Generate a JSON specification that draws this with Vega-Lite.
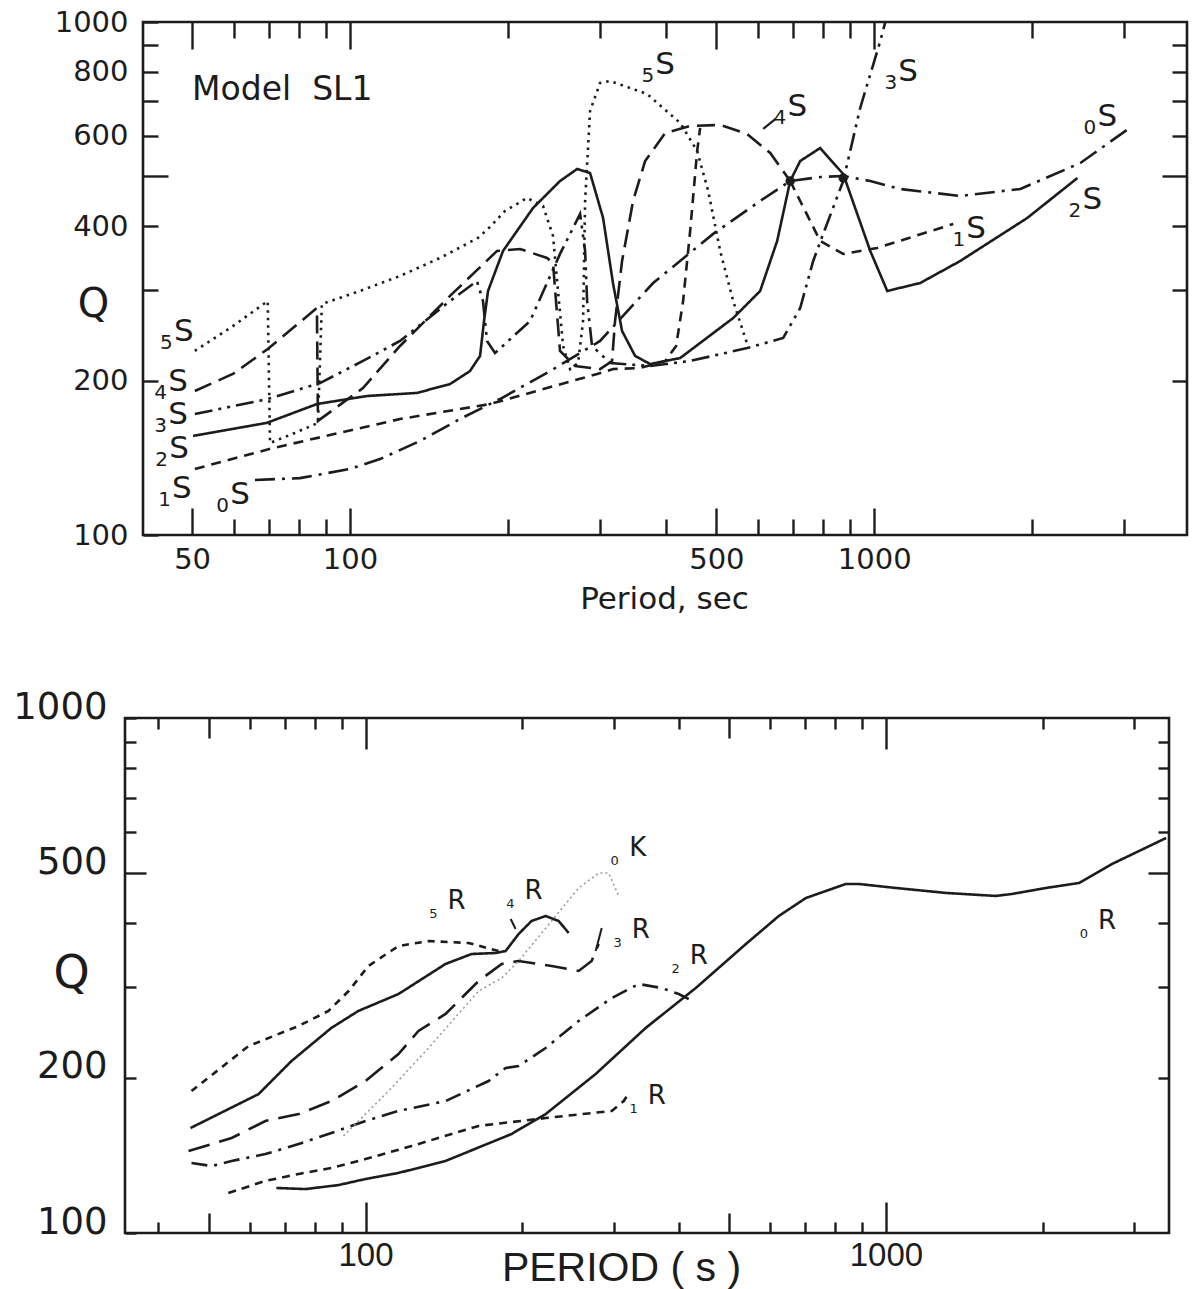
{
  "$schema": "https://vega.github.io/schema/vega-lite/v6.json",
  "background": "white",
  "padding": {"left": 10, "top": 6, "right": 0, "bottom": 0},
  "config": {
    "view": {"stroke": "#1c1c1c", "strokeWidth": 2.6},
    "axis": {"domain": false, "grid": false, "tickColor": "#1c1c1c", "tickWidth": 2.4, "labelColor": "#1c1c1c", "titleColor": "#1c1c1c", "labelOverlap": false, "labelFlush": false, "labelBound": false, "titleFontWeight": "normal", "labelFont": "DejaVu Sans", "titleFont": "DejaVu Sans"},
    "text": {"color": "#1c1c1c", "font": "DejaVu Sans"}
  },
  "datasets": {
    "topCurves": [
      {"mode":"5S","seg":"5S","i":0,"period":50.6,"Q":228.5},{"mode":"5S","seg":"5S","i":1,"period":59.5,"Q":254.4},{"mode":"5S","seg":"5S","i":2,"period":69.7,"Q":285.8},{"mode":"5S","seg":"5S","i":3,"period":70.4,"Q":151.1},{"mode":"5S","seg":"5S","i":4,"period":78.5,"Q":158.1},{"mode":"5S","seg":"5S","i":5,"period":86.9,"Q":165.4},{"mode":"5S","seg":"5S","i":6,"period":88.4,"Q":282.0},{"mode":"5S","seg":"5S","i":7,"period":104.5,"Q":299.0},{"mode":"5S","seg":"5S","i":8,"period":124.6,"Q":319.8},{"mode":"5S","seg":"5S","i":9,"period":148.5,"Q":346.7},{"mode":"5S","seg":"5S","i":10,"period":175.5,"Q":379.4},{"mode":"5S","seg":"5S","i":11,"period":185.0,"Q":398.6},{"mode":"5S","seg":"5S","i":12,"period":197.6,"Q":428.2},{"mode":"5S","seg":"5S","i":13,"period":217.7,"Q":453.9},{"mode":"5S","seg":"5S","i":14,"period":233.5,"Q":437.9},{"mode":"5S","seg":"5S","i":15,"period":244.0,"Q":382.8},{"mode":"5S","seg":"5S","i":16,"period":249.4,"Q":299.0},{"mode":"5S","seg":"5S","i":17,"period":255.0,"Q":233.6},{"mode":"5S","seg":"5S","i":18,"period":263.0,"Q":210.6},{"mode":"5S","seg":"5S","i":19,"period":272.4,"Q":216.4},{"mode":"5S","seg":"5S","i":20,"period":278.4,"Q":261.3},{"mode":"5S","seg":"5S","i":21,"period":280.9,"Q":447.9},{"mode":"5S","seg":"5S","i":22,"period":287.1,"Q":670.7},{"mode":"5S","seg":"5S","i":23,"period":300.0,"Q":760.5},{"mode":"5S","seg":"5S","i":24,"period":313.5,"Q":767.4},{"mode":"5S","seg":"5S","i":25,"period":368.8,"Q":723.9},{"mode":"5S","seg":"5S","i":26,"period":426.5,"Q":635.6},{"mode":"5S","seg":"5S","i":27,"period":459.5,"Q":560.5},{"mode":"5S","seg":"5S","i":28,"period":482.3,"Q":468.4},{"mode":"5S","seg":"5S","i":29,"period":508.4,"Q":357.9},{"mode":"5S","seg":"5S","i":30,"period":538.3,"Q":285.8},{"mode":"5S","seg":"5S","i":31,"period":572.4,"Q":235.7},
      {"mode":"4S","seg":"4S","i":0,"period":50.6,"Q":190.9},{"mode":"4S","seg":"4S","i":1,"period":59.8,"Q":206.0},{"mode":"4S","seg":"4S","i":2,"period":69.7,"Q":230.5},{"mode":"4S","seg":"4S","i":3,"period":86.5,"Q":277.0},{"mode":"4S","seg":"4S","i":4,"period":86.9,"Q":166.9},{"mode":"4S","seg":"4S","i":5,"period":105.9,"Q":193.4},{"mode":"4S","seg":"4S","i":6,"period":124.6,"Q":233.6},{"mode":"4S","seg":"4S","i":7,"period":155.2,"Q":292.4},{"mode":"4S","seg":"4S","i":8,"period":190.8,"Q":357.9},{"mode":"4S","seg":"4S","i":9,"period":211.1,"Q":361.0},{"mode":"4S","seg":"4S","i":10,"period":237.7,"Q":346.7},{"mode":"4S","seg":"4S","i":11,"period":244.0,"Q":339.0},{"mode":"4S","seg":"4S","i":12,"period":247.2,"Q":285.8},{"mode":"4S","seg":"4S","i":13,"period":251.6,"Q":228.5},{"mode":"4S","seg":"4S","i":14,"period":268.9,"Q":213.5},{"mode":"4S","seg":"4S","i":15,"period":300.0,"Q":210.6},{"mode":"4S","seg":"4S","i":16,"period":316.2,"Q":218.4},{"mode":"4S","seg":"4S","i":17,"period":320.4,"Q":261.3},{"mode":"4S","seg":"4S","i":18,"period":330.4,"Q":342.1},{"mode":"4S","seg":"4S","i":19,"period":346.8,"Q":447.9},{"mode":"4S","seg":"4S","i":20,"period":365.6,"Q":535.8},{"mode":"4S","seg":"4S","i":21,"period":399.3,"Q":607.6},{"mode":"4S","seg":"4S","i":22,"period":445.6,"Q":627.1},{"mode":"4S","seg":"4S","i":23,"period":508.4,"Q":630.0},{"mode":"4S","seg":"4S","i":24,"period":572.4,"Q":604.9},{"mode":"4S","seg":"4S","i":25,"period":633.4,"Q":555.4},{"mode":"4S","seg":"4S","i":26,"period":691.4,"Q":489.8},
      {"mode":"3S","seg":"3S","i":0,"period":50.6,"Q":172.1},{"mode":"3S","seg":"3S","i":1,"period":69.7,"Q":184.1},{"mode":"3S","seg":"3S","i":2,"period":87.7,"Q":197.8},{"mode":"3S","seg":"3S","i":3,"period":105.9,"Q":218.4},{"mode":"3S","seg":"3S","i":4,"period":124.6,"Q":238.9},{"mode":"3S","seg":"3S","i":5,"period":155.2,"Q":285.8},{"mode":"3S","seg":"3S","i":6,"period":174.7,"Q":312.7},{"mode":"3S","seg":"3S","i":7,"period":179.4,"Q":285.8},{"mode":"3S","seg":"3S","i":8,"period":182.6,"Q":238.9},{"mode":"3S","seg":"3S","i":9,"period":189.1,"Q":226.3},{"mode":"3S","seg":"3S","i":10,"period":220.6,"Q":261.3},{"mode":"3S","seg":"3S","i":11,"period":251.6,"Q":353.1},{"mode":"3S","seg":"3S","i":12,"period":274.8,"Q":422.5},{"mode":"3S","seg":"3S","i":13,"period":280.9,"Q":357.9},{"mode":"3S","seg":"3S","i":14,"period":283.4,"Q":285.8},{"mode":"3S","seg":"3S","i":15,"period":289.6,"Q":233.6},{"mode":"3S","seg":"3S","i":16,"period":313.5,"Q":216.4},{"mode":"3S","seg":"3S","i":17,"period":373.7,"Q":213.5},{"mode":"3S","seg":"3S","i":18,"period":445.6,"Q":218.4},{"mode":"3S","seg":"3S","i":19,"period":572.4,"Q":231.4},{"mode":"3S","seg":"3S","i":20,"period":670.5,"Q":242.1},{"mode":"3S","seg":"3S","i":21,"period":722.5,"Q":277.0},{"mode":"3S","seg":"3S","i":22,"period":764.9,"Q":342.1},{"mode":"3S","seg":"3S","i":23,"period":799.2,"Q":386.3},{"mode":"3S","seg":"3S","i":24,"period":872.7,"Q":489.8},{"mode":"3S","seg":"3S","i":25,"period":940.3,"Q":679.8},{"mode":"3S","seg":"3S","i":26,"period":1027,"Q":918.3},{"mode":"3S","seg":"3S","i":27,"period":1050,"Q":1000},
      {"mode":"2S","seg":"2S","i":0,"period":50.2,"Q":156.0},{"mode":"2S","seg":"2S","i":1,"period":69.4,"Q":165.4},{"mode":"2S","seg":"2S","i":2,"period":86.5,"Q":180.0},{"mode":"2S","seg":"2S","i":3,"period":107.7,"Q":186.6},{"mode":"2S","seg":"2S","i":4,"period":134.2,"Q":189.2},{"mode":"2S","seg":"2S","i":5,"period":155.2,"Q":196.9},{"mode":"2S","seg":"2S","i":6,"period":169.4,"Q":208.7},{"mode":"2S","seg":"2S","i":7,"period":177.1,"Q":223.4},{"mode":"2S","seg":"2S","i":8,"period":180.2,"Q":261.3},{"mode":"2S","seg":"2S","i":9,"period":183.4,"Q":299.0},{"mode":"2S","seg":"2S","i":10,"period":195.9,"Q":357.9},{"mode":"2S","seg":"2S","i":11,"period":223.5,"Q":434.0},{"mode":"2S","seg":"2S","i":12,"period":251.6,"Q":489.8},{"mode":"2S","seg":"2S","i":13,"period":271.3,"Q":517.0},{"mode":"2S","seg":"2S","i":14,"period":287.1,"Q":507.7},{"mode":"2S","seg":"2S","i":15,"period":304.0,"Q":415.0},{"mode":"2S","seg":"2S","i":16,"period":317.7,"Q":308.5},{"mode":"2S","seg":"2S","i":17,"period":330.4,"Q":249.9},{"mode":"2S","seg":"2S","i":18,"period":349.9,"Q":223.4},{"mode":"2S","seg":"2S","i":19,"period":373.7,"Q":215.4},{"mode":"2S","seg":"2S","i":20,"period":426.5,"Q":221.3},{"mode":"2S","seg":"2S","i":21,"period":538.3,"Q":264.8},{"mode":"2S","seg":"2S","i":22,"period":606.0,"Q":299.0},{"mode":"2S","seg":"2S","i":23,"period":653.0,"Q":374.3},{"mode":"2S","seg":"2S","i":24,"period":691.4,"Q":489.8},{"mode":"2S","seg":"2S","i":25,"period":722.5,"Q":535.8},{"mode":"2S","seg":"2S","i":26,"period":788.7,"Q":568.0},{"mode":"2S","seg":"2S","i":27,"period":872.7,"Q":505.5},{"mode":"2S","seg":"2S","i":28,"period":982.7,"Q":357.9},{"mode":"2S","seg":"2S","i":29,"period":1059,"Q":299.0},{"mode":"2S","seg":"2S","i":30,"period":1224,"Q":309.9},{"mode":"2S","seg":"2S","i":31,"period":1459,"Q":342.1},{"mode":"2S","seg":"2S","i":32,"period":1959,"Q":415.0},{"mode":"2S","seg":"2S","i":33,"period":2441,"Q":496.5},
      {"mode":"1S","seg":"1Sa","i":0,"period":50.6,"Q":134.5},{"mode":"1S","seg":"1Sa","i":1,"period":71.3,"Q":147.7},{"mode":"1S","seg":"1Sa","i":2,"period":124.6,"Q":168.3},{"mode":"1S","seg":"1Sa","i":3,"period":185.0,"Q":180.0},{"mode":"1S","seg":"1Sa","i":4,"period":296.1,"Q":206.0},{"mode":"1S","seg":"1Sa","i":5,"period":317.7,"Q":210.6},{"mode":"1S","seg":"1Sa","i":6,"period":357.6,"Q":211.6},{"mode":"1S","seg":"1Sa","i":7,"period":399.3,"Q":218.4},{"mode":"1S","seg":"1Sa","i":8,"period":419.0,"Q":233.6},{"mode":"1S","seg":"1Sa","i":9,"period":432.0,"Q":285.8},{"mode":"1S","seg":"1Sa","i":10,"period":445.6,"Q":391.5},{"mode":"1S","seg":"1Sa","i":11,"period":459.5,"Q":560.5},{"mode":"1S","seg":"1Sa","i":12,"period":465.6,"Q":621.6},
      {"mode":"1S","seg":"1Sb","i":0,"period":691.4,"Q":489.8},{"mode":"1S","seg":"1Sb","i":1,"period":788.7,"Q":374.3},{"mode":"1S","seg":"1Sb","i":2,"period":872.7,"Q":353.1},{"mode":"1S","seg":"1Sb","i":3,"period":1013,"Q":362.7},{"mode":"1S","seg":"1Sb","i":4,"period":1415,"Q":404.0},
      {"mode":"0S","seg":"0S","i":0,"period":65.9,"Q":128.0},{"mode":"0S","seg":"0S","i":1,"period":80.3,"Q":129.1},{"mode":"0S","seg":"0S","i":2,"period":100,"Q":134.5},{"mode":"0S","seg":"0S","i":3,"period":114.1,"Q":140.6},{"mode":"0S","seg":"0S","i":4,"period":136.0,"Q":152.5},{"mode":"0S","seg":"0S","i":5,"period":162.1,"Q":168.3},{"mode":"0S","seg":"0S","i":6,"period":193.3,"Q":184.1},{"mode":"0S","seg":"0S","i":7,"period":240.8,"Q":208.7},{"mode":"0S","seg":"0S","i":8,"period":300.0,"Q":238.9},{"mode":"0S","seg":"0S","i":9,"period":378.7,"Q":309.9},{"mode":"0S","seg":"0S","i":10,"period":493.0,"Q":386.3},{"mode":"0S","seg":"0S","i":11,"period":606.0,"Q":447.9},{"mode":"0S","seg":"0S","i":12,"period":691.4,"Q":489.8},{"mode":"0S","seg":"0S","i":13,"period":788.7,"Q":498.7},{"mode":"0S","seg":"0S","i":14,"period":872.7,"Q":501.0},{"mode":"0S","seg":"0S","i":15,"period":982.7,"Q":489.8},{"mode":"0S","seg":"0S","i":16,"period":1121,"Q":472.6},{"mode":"0S","seg":"0S","i":17,"period":1459,"Q":458.0},{"mode":"0S","seg":"0S","i":18,"period":1900,"Q":472.6},{"mode":"0S","seg":"0S","i":19,"period":2474,"Q":531.1},{"mode":"0S","seg":"0S","i":20,"period":3108,"Q":627.1}
    ],
    "topLabels": [
      {"n":"5","period":48.2,"Q":238.9},{"n":"4","period":47.0,"Q":190.9},{"n":"3","period":47.0,"Q":164.6},{"n":"2","period":47.2,"Q":141.3},{"n":"1","period":47.8,"Q":118.1},{"n":"0","period":61.7,"Q":114.9},
      {"n":"5","period":399.3,"Q":791.7},{"n":"4","period":713.1,"Q":655.8},{"n":"3","period":1161,"Q":767.4},{"n":"0","period":2784,"Q":627.1},{"n":"1","period":1565,"Q":379.4},{"n":"2","period":2606,"Q":432.0}
    ],
    "topNodes": [
      {"period":691.4,"Q":489.8},{"period":872.7,"Q":496.5}
    ],
    "topLeaders": [
      {"period":614.1,"Q":618.7,"period2":647.6,"Q2":646.9}
    ],
    "bottomCurves": [
      {"mode":"5R","i":0,"period":46.3,"Q":188.6},{"mode":"5R","i":1,"period":59.6,"Q":230.7},{"mode":"5R","i":2,"period":74.4,"Q":252.4},{"mode":"5R","i":3,"period":84.9,"Q":269.9},{"mode":"5R","i":4,"period":92.8,"Q":295.0},{"mode":"5R","i":5,"period":101.3,"Q":330.0},{"mode":"5R","i":6,"period":115.7,"Q":360.8},{"mode":"5R","i":7,"period":132.2,"Q":368.9},{"mode":"5R","i":8,"period":157.8,"Q":365.6},{"mode":"5R","i":9,"period":180.3,"Q":352.8},
      {"mode":"4R","i":0,"period":46.1,"Q":159.9},{"mode":"4R","i":1,"period":62.3,"Q":186.1},{"mode":"4R","i":2,"period":72.1,"Q":215.8},{"mode":"4R","i":3,"period":86.0,"Q":250.2},{"mode":"4R","i":4,"period":96.9,"Q":269.9},{"mode":"4R","i":5,"period":115.7,"Q":291.1},{"mode":"4R","i":6,"period":142.5,"Q":333.0},{"mode":"4R","i":7,"period":159.9,"Q":348.1},{"mode":"4R","i":8,"period":177.8,"Q":349.7},{"mode":"4R","i":9,"period":185.9,"Q":352.8},{"mode":"4R","i":10,"period":196.9,"Q":380.7},{"mode":"4R","i":11,"period":208.5,"Q":403.5},{"mode":"4R","i":12,"period":221.9,"Q":412.6},{"mode":"4R","i":13,"period":235.1,"Q":403.5},{"mode":"4R","i":14,"period":245.7,"Q":382.4},
      {"mode":"3R","i":0,"period":45.7,"Q":144.3},{"mode":"3R","i":1,"period":55.3,"Q":152.9},{"mode":"3R","i":2,"period":64.2,"Q":165.0},{"mode":"3R","i":3,"period":74.4,"Q":170.2},{"mode":"3R","i":4,"period":86.0,"Q":180.4},{"mode":"3R","i":5,"period":100,"Q":197.3},{"mode":"3R","i":6,"period":115.7,"Q":222.6},{"mode":"3R","i":7,"period":126.4,"Q":246.8},{"mode":"3R","i":8,"period":142.5,"Q":266.3},{"mode":"3R","i":9,"period":164.9,"Q":308.5},{"mode":"3R","i":10,"period":182.7,"Q":333.0},{"mode":"3R","i":11,"period":196.9,"Q":337.4},{"mode":"3R","i":12,"period":227.9,"Q":330.0},{"mode":"3R","i":13,"period":256.8,"Q":322.7},{"mode":"3R","i":14,"period":272.0,"Q":337.4},{"mode":"3R","i":15,"period":280.6,"Q":364.0},
      {"mode":"0K","i":0,"period":90.7,"Q":154.3},{"mode":"0K","i":1,"period":110.7,"Q":188.6},{"mode":"0K","i":2,"period":132.2,"Q":228.7},{"mode":"0K","i":3,"period":164.9,"Q":295.0},{"mode":"0K","i":4,"period":182.7,"Q":312.7},{"mode":"0K","i":5,"period":196.9,"Q":337.4},{"mode":"0K","i":6,"period":227.9,"Q":403.5},{"mode":"0K","i":7,"period":256.8,"Q":467.7},{"mode":"0K","i":8,"period":280.6,"Q":500.0},{"mode":"0K","i":9,"period":293.3,"Q":500.0},{"mode":"0K","i":10,"period":306.6,"Q":451.3},
      {"mode":"2R","i":0,"period":46.3,"Q":136.8},{"mode":"2R","i":1,"period":50.6,"Q":134.9},{"mode":"2R","i":2,"period":55.3,"Q":138.0},{"mode":"2R","i":3,"period":64.2,"Q":142.3},{"mode":"2R","i":4,"period":74.4,"Q":148.9},{"mode":"2R","i":5,"period":86.0,"Q":156.4},{"mode":"2R","i":6,"period":100,"Q":165.0},{"mode":"2R","i":7,"period":115.7,"Q":172.6},{"mode":"2R","i":8,"period":142.5,"Q":180.4},{"mode":"2R","i":9,"period":172.4,"Q":197.3},{"mode":"2R","i":10,"period":185.9,"Q":209.1},{"mode":"2R","i":11,"period":196.9,"Q":211.0},{"mode":"2R","i":12,"period":221.9,"Q":228.7},{"mode":"2R","i":13,"period":256.8,"Q":258.1},{"mode":"2R","i":14,"period":297.2,"Q":285.9},{"mode":"2R","i":15,"period":335.0,"Q":304.4},{"mode":"2R","i":16,"period":370.9,"Q":299.0},{"mode":"2R","i":17,"period":399.9,"Q":291.1},{"mode":"2R","i":18,"period":418.0,"Q":284.6},
      {"mode":"1R","i":0,"period":54.5,"Q":119.6},{"mode":"1R","i":1,"period":64.2,"Q":126.2},{"mode":"1R","i":2,"period":74.4,"Q":130.2},{"mode":"1R","i":3,"period":86.0,"Q":133.7},{"mode":"1R","i":4,"period":100,"Q":139.2},{"mode":"1R","i":5,"period":122.6,"Q":147.5},{"mode":"1R","i":6,"period":164.9,"Q":161.4},{"mode":"1R","i":7,"period":221.9,"Q":167.2},{"mode":"1R","i":8,"period":297.2,"Q":172.6},{"mode":"1R","i":9,"period":313.5,"Q":180.4},{"mode":"1R","i":10,"period":320.5,"Q":186.9},
      {"mode":"0R","i":0,"period":67.4,"Q":122.3},{"mode":"0R","i":1,"period":76.7,"Q":121.7},{"mode":"0R","i":2,"period":88.7,"Q":123.9},{"mode":"0R","i":3,"period":100,"Q":127.3},{"mode":"0R","i":4,"period":115.7,"Q":130.8},{"mode":"0R","i":5,"period":142.5,"Q":138.0},{"mode":"0R","i":6,"period":190.9,"Q":155.7},{"mode":"0R","i":7,"period":221.9,"Q":170.2},{"mode":"0R","i":8,"period":276.9,"Q":203.6},{"mode":"0R","i":9,"period":345.6,"Q":250.2},{"mode":"0R","i":10,"period":431.2,"Q":299.0},{"mode":"0R","i":11,"period":538.2,"Q":364.0},{"mode":"0R","i":12,"period":622.6,"Q":412.6},{"mode":"0R","i":13,"period":702.0,"Q":447.2},{"mode":"0R","i":14,"period":837.6,"Q":476.1},{"mode":"0R","i":15,"period":887.2,"Q":476.1},{"mode":"0R","i":16,"period":1045,"Q":467.7},{"mode":"0R","i":17,"period":1305,"Q":457.4},{"mode":"0R","i":18,"period":1627,"Q":451.3},{"mode":"0R","i":19,"period":1747,"Q":455.3},{"mode":"0R","i":20,"period":2031,"Q":467.7},{"mode":"0R","i":21,"period":2350,"Q":478.2},{"mode":"0R","i":22,"period":2720,"Q":520.6},{"mode":"0R","i":23,"period":3456,"Q":584.8}
    ],
    "bottomLabels": [
      {"n":"5","letter":"R","period":149.6,"Q":425.8},{"n":"4","letter":"R","period":210.4,"Q":445.3},{"n":"0","letter":"K","period":333.6,"Q":539.5},{"n":"3","letter":"R","period":338.0,"Q":373.9},{"n":"2","letter":"R","period":436.8,"Q":333.0},{"n":"1","letter":"R","period":362.7,"Q":178.0},{"n":"0","letter":"R","period":2661,"Q":389.3}
    ],
    "bottomLeaders": [
      {"period":190.1,"Q":407.2,"period2":194.3,"Q2":389.3},
      {"period":276.9,"Q":352.8,"period2":284.4,"Q2":391.0}
    ]
  },
  "vconcat": [
    {
      "spacing": 0,
      "hconcat": [
        {"width": 42, "height": 1, "view": {"stroke": null}, "data": {"values": []}, "mark": "point"},
        {
          "width": 1044,
          "height": 513,
          "resolve": {"axis": {"x": "independent", "y": "independent"}},
          "layer": [
            {
              "data": {"name": "topCurves"},
              "mark": {"type": "line", "strokeWidth": 2.6, "color": "#1c1c1c"},
              "encoding": {
                "x": {"field": "period", "type": "quantitative", "scale": {"type": "log", "domain": [40.3, 3950], "nice": false},
                  "axis": {"orient": "bottom", "values": [50,60,70,80,90,100,200,300,400,500,600,700,800,900,1000,2000,3000],
                    "labelExpr": "indexof([50,100,500,1000], datum.value) >= 0 ? format(datum.value, 'd') : ''",
                    "tickSize": {"condition": {"test": "indexof([50,100,500,1000], datum.value) >= 0", "value": -27}, "value": -16},
                    "labelPadding": 37, "labelFontSize": 29,
                    "title": "Period, sec", "titleFontSize": 31, "titleX": 521, "titleY": 64, "titleBaseline": "middle", "titleAlign": "center"}},
                "y": {"field": "Q", "type": "quantitative", "scale": {"type": "log", "domain": [100, 1000], "nice": false},
                  "axis": {"orient": "left", "values": [100,200,300,400,500,600,700,800,900,1000],
                    "labelExpr": "indexof([100,200,400,600,800,1000], datum.value) >= 0 ? format(datum.value, 'd') : ''",
                    "tickSize": {"condition": {"test": "datum.value == 500", "value": -25}, "value": -15},
                    "labelPadding": 30, "labelFontSize": 29,
                    "title": "Q", "titleAngle": 0, "titleFontSize": 40, "titleX": -50, "titleY": 282, "titleAlign": "center", "titleBaseline": "middle"}},
                "detail": {"field": "seg"},
                "order": {"field": "i", "type": "quantitative"},
                "strokeDash": {"field": "mode", "type": "nominal", "legend": null,
                  "scale": {"domain": ["0S","1S","2S","3S","4S","5S","0R","1R","2R","3R","4R","5R"], "range": [[20,7,3,7],[10,7],[1,0],[18,6,3,6,3,6],[18,8],[2.5,5],[1,0],[8,6],[16,7,3,7],[22,10],[1,0],[7,6]]}}
              }
            },
            {
              "data": {"name": "topLabels"},
              "mark": {"type": "text", "text": "S", "fontSize": 31, "align": "center", "baseline": "alphabetic"},
              "encoding": {
                "x": {"field": "period", "type": "quantitative", "scale": {"type": "log", "domain": [40.3, 3950], "nice": false},
                  "axis": {"orient": "top", "values": [50,60,70,80,90,100,200,300,400,500,600,700,800,900,1000,2000,3000], "labels": false, "title": null,
                    "tickSize": {"condition": {"test": "indexof([50,100,500,1000], datum.value) >= 0", "value": -27}, "value": -16}}},
                "y": {"field": "Q", "type": "quantitative", "scale": {"type": "log", "domain": [100, 1000], "nice": false},
                  "axis": {"orient": "right", "values": [200,300,400,500,600,700,800,900], "labels": false, "title": null,
                    "tickSize": {"condition": {"test": "datum.value == 500", "value": -25}, "value": -15}}}
              }
            },
            {
              "data": {"name": "topLabels"},
              "mark": {"type": "text", "fontSize": 20, "align": "right", "baseline": "alphabetic", "dx": -11, "dy": 8},
              "encoding": {
                "x": {"field": "period", "type": "quantitative", "scale": {"type": "log", "domain": [40.3, 3950], "nice": false}, "axis": null},
                "y": {"field": "Q", "type": "quantitative", "scale": {"type": "log", "domain": [100, 1000], "nice": false}, "axis": null},
                "text": {"field": "n"}
              }
            },
            {
              "data": {"name": "topNodes"},
              "mark": {"type": "point", "filled": true, "size": 90, "opacity": 1, "color": "#1c1c1c"},
              "encoding": {
                "x": {"field": "period", "type": "quantitative", "scale": {"type": "log", "domain": [40.3, 3950], "nice": false}, "axis": null},
                "y": {"field": "Q", "type": "quantitative", "scale": {"type": "log", "domain": [100, 1000], "nice": false}, "axis": null}
              }
            },
            {
              "data": {"name": "topLeaders"},
              "mark": {"type": "rule", "strokeWidth": 2.2, "color": "#1c1c1c"},
              "encoding": {
                "x": {"field": "period", "type": "quantitative", "scale": {"type": "log", "domain": [40.3, 3950], "nice": false}, "axis": null},
                "y": {"field": "Q", "type": "quantitative", "scale": {"type": "log", "domain": [100, 1000], "nice": false}, "axis": null},
                "x2": {"field": "period2"},
                "y2": {"field": "Q2"}
              }
            },
            {
              "data": {"values": [{"period": 50, "Q": 704.7, "caption": "Model\u00a0\u00a0SL1"}]},
              "mark": {"type": "text", "fontSize": 33, "align": "left", "baseline": "alphabetic"},
              "encoding": {
                "x": {"field": "period", "type": "quantitative", "scale": {"type": "log", "domain": [40.3, 3950], "nice": false}, "axis": null},
                "y": {"field": "Q", "type": "quantitative", "scale": {"type": "log", "domain": [100, 1000], "nice": false}, "axis": null},
                "text": {"field": "caption"}
              }
            }
          ]
        }
      ]
    },
    {
      "spacing": 0,
      "hconcat": [
        {"width": 1, "height": 1, "view": {"stroke": null}, "data": {"values": []}, "mark": "point"},
        {
          "width": 1044,
          "height": 515,
          "resolve": {"axis": {"x": "independent", "y": "independent"}},
          "layer": [
            {
              "data": {"name": "bottomCurves"},
              "transform": [{"filter": "datum.mode != '0K'"}],
              "mark": {"type": "line", "strokeWidth": 2.6, "color": "#1c1c1c"},
              "encoding": {
                "x": {"field": "period", "type": "quantitative", "scale": {"type": "log", "domain": [34.5, 3500], "nice": false},
                  "axis": {"orient": "bottom", "values": [40,50,60,70,80,90,100,200,300,400,500,600,700,800,900,1000,2000,3000],
                    "labelExpr": "datum.value == 100 || datum.value == 1000 ? format(datum.value, 'd') : ''",
                    "tickSize": {"condition": [{"test": "datum.value == 100 || datum.value == 1000", "value": -31}, {"test": "datum.value == 50 || datum.value == 500", "value": -20}], "value": -11},
                    "labelPadding": 37, "labelFontSize": 33, "labelFont": "Liberation Sans",
                    "title": "PERIOD ( s )", "titleFont": "Liberation Sans", "titleFontSize": 41, "titleX": 496, "titleY": 47, "titleBaseline": "alphabetic", "titleAlign": "center"}},
                "y": {"field": "Q", "type": "quantitative", "scale": {"type": "log", "domain": [100, 1000], "nice": false},
                  "axis": {"orient": "left", "values": [100,200,300,400,500,600,700,800,900,1000],
                    "labelExpr": "indexof([100,200,500,1000], datum.value) >= 0 ? format(datum.value, 'd') : ''",
                    "tickSize": {"condition": {"test": "datum.value == 500", "value": -21}, "value": -11},
                    "labelPadding": {"condition": {"test": "datum.value == 500", "value": 39}, "value": 29},
                    "labelOffset": -11, "labelFontSize": 37,
                    "title": "Q", "titleAngle": 0, "titleFontSize": 46, "titleX": -54, "titleY": 255, "titleAlign": "center", "titleBaseline": "middle"}},
                "detail": {"field": "mode"},
                "order": {"field": "i", "type": "quantitative"},
                "strokeDash": {"field": "mode", "type": "nominal", "legend": null,
                  "scale": {"domain": ["0S","1S","2S","3S","4S","5S","0R","1R","2R","3R","4R","5R"], "range": [[20,7,3,7],[10,7],[1,0],[18,6,3,6,3,6],[18,8],[2.5,5],[1,0],[8,6],[16,7,3,7],[22,10],[1,0],[7,6]]}}
              }
            },
            {
              "data": {"name": "bottomCurves"},
              "transform": [{"filter": "datum.mode == '0K'"}],
              "mark": {"type": "line", "strokeWidth": 1.6, "color": "#9a9a9a", "strokeDash": [2, 3]},
              "encoding": {
                "x": {"field": "period", "type": "quantitative", "scale": {"type": "log", "domain": [34.5, 3500], "nice": false}, "axis": null},
                "y": {"field": "Q", "type": "quantitative", "scale": {"type": "log", "domain": [100, 1000], "nice": false}, "axis": null},
                "order": {"field": "i", "type": "quantitative"}
              }
            },
            {
              "data": {"name": "bottomLeaders"},
              "mark": {"type": "rule", "strokeWidth": 2, "color": "#1c1c1c"},
              "encoding": {
                "x": {"field": "period", "type": "quantitative", "scale": {"type": "log", "domain": [34.5, 3500], "nice": false}, "axis": null},
                "y": {"field": "Q", "type": "quantitative", "scale": {"type": "log", "domain": [100, 1000], "nice": false}, "axis": null},
                "x2": {"field": "period2"},
                "y2": {"field": "Q2"}
              }
            },
            {
              "data": {"name": "bottomLabels"},
              "mark": {"type": "text", "fontSize": 26, "align": "center", "baseline": "alphabetic"},
              "encoding": {
                "x": {"field": "period", "type": "quantitative", "scale": {"type": "log", "domain": [34.5, 3500], "nice": false},
                  "axis": {"orient": "top", "values": [40,50,60,70,80,90,100,200,300,400,500,600,700,800,900,1000,2000,3000], "labels": false, "title": null,
                    "tickSize": {"condition": [{"test": "datum.value == 100 || datum.value == 1000", "value": -31}, {"test": "datum.value == 50 || datum.value == 500", "value": -20}], "value": -11}}},
                "y": {"field": "Q", "type": "quantitative", "scale": {"type": "log", "domain": [100, 1000], "nice": false},
                  "axis": {"orient": "right", "values": [200,300,400,500,600,700,800,900], "labels": false, "title": null,
                    "tickSize": {"condition": {"test": "datum.value == 500", "value": -21}, "value": -11}}},
                "text": {"field": "letter"}
              }
            },
            {
              "data": {"name": "bottomLabels"},
              "mark": {"type": "text", "fontSize": 13, "align": "right", "baseline": "alphabetic", "dx": -19, "dy": 9},
              "encoding": {
                "x": {"field": "period", "type": "quantitative", "scale": {"type": "log", "domain": [34.5, 3500], "nice": false}, "axis": null},
                "y": {"field": "Q", "type": "quantitative", "scale": {"type": "log", "domain": [100, 1000], "nice": false}, "axis": null},
                "text": {"field": "n"}
              }
            }
          ]
        }
      ]
    }
  ],
  "spacing": 70
}
